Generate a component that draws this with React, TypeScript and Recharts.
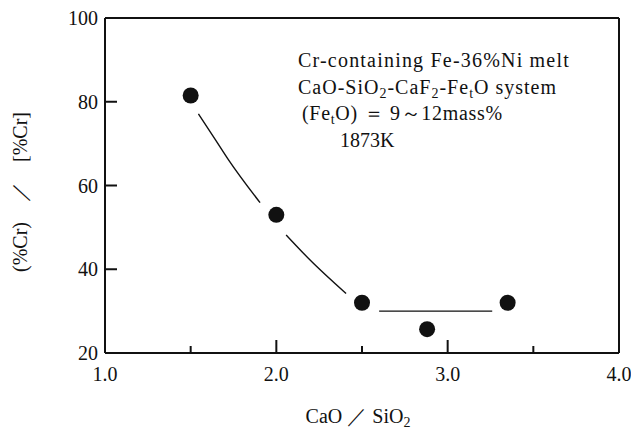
import React from 'react';
import {
  ComposedChart, XAxis, YAxis, Scatter, Line, ReferenceLine, Customized,
} from 'recharts';

// measured points: basicity (CaO/SiO2) vs Cr distribution ratio
const basicity = [1.5, 2.0, 2.5, 2.88, 3.35];
const crRatio = [81.5, 53, 32, 25.7, 32];

// hand drawn trend line, null = gap around a marker
const trendX = [1.545, 1.642, 1.72, 1.905, 1.98, 2.057, 2.197, 2.407, 2.5, 2.6, 3.26];
const trendY = [77.1, 71.1, 66.2, 55.9, null, 48.2, 42.2, 34.2, null, 30, 30];

const xTicks = [1, 1.5, 2, 2.5, 3, 3.5, 4];
const yTicks = [20, 40, 60, 80, 100];

const ink = '#111';
const serif = 'Liberation Serif, Times New Roman, DejaVu Serif, serif';

const points = basicity.map((x, i) => { return { x, y: crRatio[i] }; });
const trend = trendX.map((x, i) => { return { x, y: trendY[i] }; });

const XTick = ({ x, y, payload }) => {
  const major = Number.isInteger(payload.value);
  return (
    <g>
      <line x1={x} x2={x} y1={y} y2={y - (major ? 13 : 7)} stroke={ink} strokeWidth={2} />
      {major && (
        <text x={x} y={y + 21} textAnchor="middle" dominantBaseline="central" fontSize={20} fill={ink} style={{ fontFamily: serif }}>
          {payload.value.toFixed(1)}
        </text>
      )}
    </g>
  );
};

const YTick = ({ x, y, payload }) => {
  return (
    <g>
      {payload.value !== 20 && payload.value !== 100 && (
        <line x1={x} x2={x + 12} y1={y} y2={y} stroke={ink} strokeWidth={2} />
      )}
      <text x={x - 7} y={y} textAnchor="end" dominantBaseline="central" fontSize={20} fill={ink} style={{ fontFamily: serif }}>
        {payload.value}
      </text>
    </g>
  );
};

const Dot = (props) => {
  return <circle cx={props.cx} cy={props.cy} r={8} fill={ink} />;
};

const Sub = ({ children }) => {
  return <tspan fontSize={14} dy={4}>{children}</tspan>;
};
const Up = ({ children }) => {
  return <tspan dy={-4}>{children}</tspan>;
};

const Texts = () => {
  return (
    <g fill={ink} style={{ fontFamily: serif }} fontSize={20}>
      <text x={298} y={67} letterSpacing={1.2}>Cr-containing Fe-36%Ni melt</text>
      <text x={298} y={94} letterSpacing={1}>
        CaO-SiO<Sub>2</Sub><Up>-CaF</Up><Sub>2</Sub><Up>-Fe</Up><Sub>t</Sub><Up>O system</Up>
      </text>
      <text x={302} y={120} letterSpacing={0.7}>
        (Fe<Sub>t</Sub><Up>O) ＝ 9～12mass%</Up>
      </text>
      <text x={340} y={147}>1873K</text>
      <text x={358} y={423} textAnchor="middle">
        CaO ／ SiO<Sub>2</Sub>
      </text>
      <text x={20} y={192} textAnchor="middle" dominantBaseline="central" transform="rotate(-90, 20, 192)">
        (%Cr)　／　[%Cr]
      </text>
    </g>
  );
};

const App = () => {
  return (
    <div style={{ position: 'absolute', left: 0, top: 0, background: '#fff' }}>
      <ComposedChart
        width={631}
        height={430}
        margin={{
          top: 18, right: 12, left: 0, bottom: 0,
        }}
        style={{ fontFamily: serif }}
      >
        <XAxis
          type="number"
          dataKey="x"
          domain={[1, 4]}
          ticks={xTicks}
          interval={0}
          height={77}
          tickSize={0}
          tickMargin={0}
          tickLine={false}
          axisLine={{ stroke: ink, strokeWidth: 2 }}
          tick={<XTick />}
        />
        <YAxis
          type="number"
          dataKey="y"
          domain={[20, 100]}
          ticks={yTicks}
          interval={0}
          width={105}
          tickSize={0}
          tickMargin={0}
          tickLine={false}
          axisLine={{ stroke: ink, strokeWidth: 2 }}
          tick={<YTick />}
        />
        <ReferenceLine y={100} stroke={ink} strokeWidth={2} />
        <ReferenceLine x={4} stroke={ink} strokeWidth={2} />
        <Line
          data={trend}
          dataKey="y"
          type="monotone"
          stroke={ink}
          strokeWidth={1.4}
          dot={false}
          activeDot={false}
          connectNulls={false}
          isAnimationActive={false}
        />
        <Scatter data={points} dataKey="y" shape={<Dot />} isAnimationActive={false} />
        <Customized component={Texts} />
      </ComposedChart>
    </div>
  );
};

export default App;
